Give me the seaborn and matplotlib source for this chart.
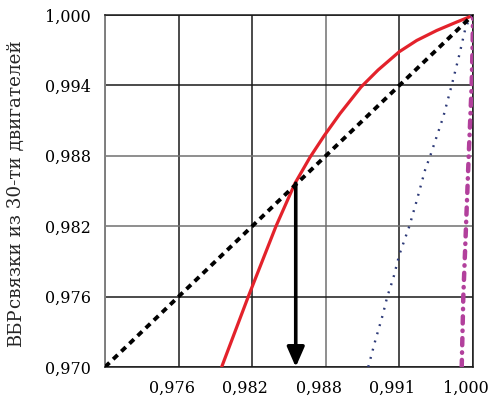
import numpy as np
import pandas as pd
import seaborn as sns
import matplotlib.pyplot as plt
import matplotlib.transforms as mtransforms

sns.set_style('white')
plt.rcParams['font.family'] = ['DejaVu Serif', 'DejaVu Sans']

# оси: значения 0,970 ... 1,000 (подписи по оси X как на оригинале)
x_ticks = [0.970, 0.976, 0.982, 0.988, 0.994, 1.000]
x_labels = ['', '0,976', '0,982', '0,988', '0,991', '1,000']
y_ticks = [0.970, 0.976, 0.982, 0.988, 0.994, 1.000]
y_labels = ['0,970', '0,976', '0,982', '0,988', '0,994', '1,000']

# диагональ (равная надёжность)
diag_x = [0.970, 1.000]
diag_y = [0.970, 1.000]

# красная кривая
red_x = [0.97951, 0.98168, 0.98394, 0.98549, 0.98671, 0.98788, 0.98916,
         0.99087, 0.99226, 0.99399, 0.99541, 0.99704, 0.99867, 0.99962, 1.0]
red_y = [0.970, 0.976, 0.982, 0.98566, 0.98787, 0.98973, 0.99160,
         0.99386, 0.99531, 0.99687, 0.99783, 0.99868, 0.99940, 0.99980, 1.0]

# синяя пунктирная
blue_x = [0.99146, 0.99201, 0.99264, 0.99301, 0.99350, 0.99399, 0.99481,
          0.99535, 0.99611, 0.99649, 0.99758, 0.99826, 0.99888, 0.99935,
          0.99976, 1.0]
blue_y = [0.970, 0.97216, 0.97443, 0.97599, 0.97756, 0.97955, 0.982,
          0.98395, 0.98685, 0.98792, 0.99133, 0.994, 0.99659, 0.99872,
          0.99986, 1.0]

# фиолетовая штрихпунктирная
mag_x = [0.99908, 0.99921, 0.99943, 0.99965, 0.99989, 0.99997, 1.0]
mag_y = [0.970, 0.976, 0.982, 0.988, 0.994, 0.9976, 1.0]

# точка пересечения (стрелка)
x_cross = 0.98555
y_cross = 0.98566

fig = plt.figure(figsize=(4.9, 4.01), dpi=100)
ax = fig.add_axes([105/490, 34/401, 368/490, 352/401])

sns.lineplot(x=red_x, y=red_y, sort=False, estimator=None, color='#e3222b',
             lw=2.3, ax=ax, zorder=4)
sns.lineplot(x=diag_x, y=diag_y, sort=False, estimator=None, color='black',
             lw=2.8, linestyle=(0, (1.6, 1.3)), ax=ax, zorder=5)
sns.lineplot(x=blue_x, y=blue_y, sort=False, estimator=None, color='#2d3a78',
             lw=1.7, linestyle=(0, (0.8, 2.8)), ax=ax, zorder=4)
sns.lineplot(x=mag_x, y=mag_y, sort=False, estimator=None, color='#b2409c',
             lw=3.2, linestyle=(0, (1.6, 1.6, 0.1, 1.6)), solid_capstyle='round',
             dash_capstyle='round', ax=ax, zorder=4)

ax.annotate('', xy=(x_cross, 0.970), xytext=(x_cross, y_cross),
            arrowprops=dict(arrowstyle='-|>,head_length=0.8,head_width=0.35',
                            lw=2.6, color='black', shrinkA=0, shrinkB=0,
                            mutation_scale=15), zorder=6)

ax.set_xlim(0.970, 1.000)
ax.set_ylim(0.970, 1.000)
ax.set_xticks(x_ticks)
ax.set_xticklabels(x_labels)
ax.set_yticks(y_ticks)
ax.set_yticklabels(y_labels)
ax.tick_params(axis='both', length=0, labelsize=11.5, colors='black')
ax.tick_params(axis='y', pad=10)
ax.tick_params(axis='x', pad=9)
ax.set_xlabel('')
ax.set_ylabel('')

# подписи по X сдвинуты немного влево, как в оригинале
shift = mtransforms.ScaledTranslation(-7/100, 0, fig.dpi_scale_trans)
for lbl in ax.get_xticklabels():
    lbl.set_transform(lbl.get_transform() + shift)

ax.grid(True, color='#1a1a1a', lw=1.1)
for i, gl in enumerate(ax.get_xgridlines()):
    if i == 3:
        gl.set_color('#707070')
for i, gl in enumerate(ax.get_ygridlines()):
    if i in (2, 3):
        gl.set_color('#707070')
for side in ['top', 'right', 'bottom']:
    ax.spines[side].set_color('#1a1a1a')
    ax.spines[side].set_linewidth(1.1)
ax.spines['left'].set_color('#808080')
ax.spines['left'].set_linewidth(1.4)

fig.text(0.051, (401-347)/401, 'ВБР', rotation=90, ha='right', va='bottom',
         fontsize=13)
fig.text(0.051, (401-308)/401, 'связки из 30-ти двигателей', rotation=90,
         ha='right', va='bottom', fontsize=13.2)

fig.savefig('out.png', dpi=100)
